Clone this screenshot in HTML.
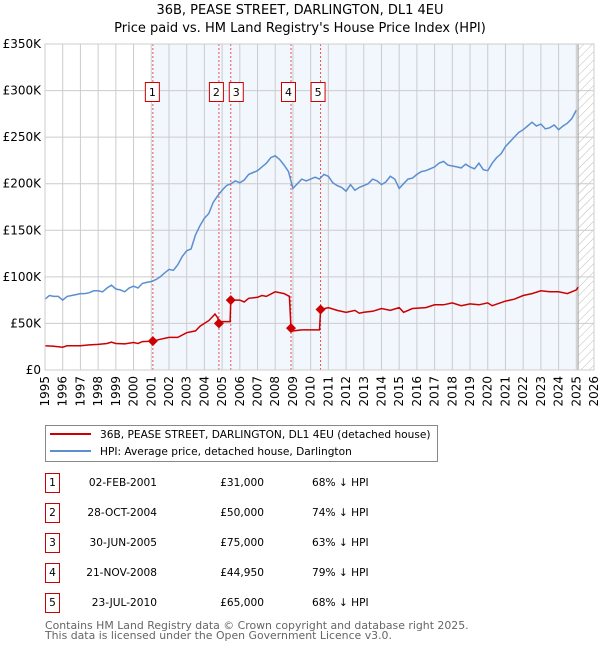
<!DOCTYPE html>
<html><head><meta charset="utf-8"><style>
body{margin:0;background:#fff;}
svg text{font-family:"DejaVu Sans","Liberation Sans",sans-serif;}
</style></head><body>
<svg id="chart" width="600" height="650" xmlns="http://www.w3.org/2000/svg">
<defs><pattern id="hatch" width="6" height="6" patternUnits="userSpaceOnUse" patternTransform="rotate(45)"><line x1="0" y1="0" x2="0" y2="6" stroke="#bbb" stroke-width="1"/></pattern></defs>
<text x="300" y="14" text-anchor="middle" font-size="13">36B, PEASE STREET, DARLINGTON, DL1 4EU</text>
<text x="300" y="32" text-anchor="middle" font-size="13">Price paid vs. HM Land Registry's House Price Index (HPI)</text>
<g id="plot"></g>
<g>
<rect x="45.5" y="425.5" width="392" height="36" fill="#fff" stroke="#888"/>
<line x1="50" y1="434" x2="91" y2="434" stroke="#cc0000" stroke-width="2"/>
<text x="100" y="438" font-size="10.6">36B, PEASE STREET, DARLINGTON, DL1 4EU (detached house)</text>
<line x1="50" y1="451" x2="91" y2="451" stroke="#5b8fd0" stroke-width="2"/>
<text x="100" y="455" font-size="10.6">HPI: Average price, detached house, Darlington</text>
</g>
<g id="table" font-size="10.6"></g>
<text x="45" y="629" font-size="10.9" fill="#666">Contains HM Land Registry data © Crown copyright and database right 2025.</text>
<text x="45" y="639" font-size="10.9" fill="#666">This data is licensed under the Open Government Licence v3.0.</text>
</svg>
<script>
const hpiStart = 1995;
const hpiValues = [76,80,79,79, 75,79,80,81, 82,82,83,85, 85,84,88,91, 87,86,84,88, 90,88,93,94, 95,97,100,104, 108,107,113,122, 128,130,145,155, 163,168,180,187, 193,198,200,203, 201,204,210,212, 214,218,222,228, 230,226,220,213, 195,200,205,203, 205,207,205,210, 208,201,198,196, 192,199,193,196, 198,200,205,203, 199,202,208,205, 195,200,205,206, 210,213,214,216, 218,222,224,220, 219,218,217,221, 218,216,222,215, 214,222,228,232, 240,245,250,255, 258,262,266,262, 264,259,260,263, 258,262,265,270, 279];
const redDates = [1995.0,1995.5,1996.0,1996.25,1997.0,1997.5,1998.0,1998.5,1998.75,1999.0,1999.5,2000.0,2000.25,2000.5,2001.09,2001.5,2002.0,2002.5,2003.0,2003.5,2003.75,2004.0,2004.25,2004.6,2004.75,2004.82,2005.0,2005.45,2005.49,2006.0,2006.25,2006.5,2007.0,2007.25,2007.5,2008.0,2008.5,2008.8,2008.89,2009.0,2009.5,2010.0,2010.5,2010.56,2011.0,2011.5,2012.0,2012.5,2012.75,2013.0,2013.5,2014.0,2014.5,2015.0,2015.25,2015.75,2016.5,2017.0,2017.5,2018.0,2018.5,2019.0,2019.5,2020.0,2020.25,2021.0,2021.5,2022.0,2022.5,2023.0,2023.5,2024.0,2024.5,2025.0,2025.1];
const redValues = [26,25.5,24.5,26,26,27,27.5,28.5,30,28.5,28,29.5,28.5,30.5,31,33,35,35,40,42,47,50,53,60,56,50,52,52,75,75,73,77,78,80,79,84,82,79,44.95,42,43,43,43,65,67,64,62,64,61,62,63,66,64,67,62,66,67,70,70,72,69,71,70,72,69,74,76,80,82,85,84,84,82,86,89];
const saleLabels = ["1","2","3","4","5"];
const saleDates = [2001.09,2004.82,2005.49,2008.89,2010.56];
const salePrices = [31,50,75,44.95,65];
const saleDateText = ["02-FEB-2001","28-OCT-2004","30-JUN-2005","21-NOV-2008","23-JUL-2010"];
const salePriceText = ["£31,000","£50,000","£75,000","£44,950","£65,000"];
const salePctText = ["68% ↓ HPI","74% ↓ HPI","63% ↓ HPI","79% ↓ HPI","68% ↓ HPI"];
const yTicks = [0,50,100,150,200,250,300,350];
const yTickLabels = ["£0","£50K","£100K","£150K","£200K","£250K","£300K","£350K"];
const xYears = [];
for (let y = 1995; y <= 2026; y++) xYears.push(y);

const X0=45,X1=594,Y0=370,Y1=44;
const xs = t => X0 + (t-1995)/(2026-1995)*(X1-X0);
const ys = v => Y0 - v/350*(Y0-Y1);
const NS="http://www.w3.org/2000/svg";
const plot=document.getElementById('plot');
function mk(tag,attrs,parent){const e=document.createElementNS(NS,tag);for(const k in attrs)e.setAttribute(k,attrs[k]);(parent||plot).appendChild(e);return e;}

const bg=mk('rect',{x:xs(saleDates[0]),y:Y1,width:xs(2025.1)-xs(saleDates[0]),height:Y0-Y1,fill:'#f2f6fd'});


const hz=mk('rect',{x:xs(2025.1),y:Y1,width:X1-xs(2025.1),height:Y0-Y1,fill:'url(#hatch)'});



yTicks.forEach((v,i)=>{
  const l=mk('line',{x1:X0,x2:X1,y1:ys(v),y2:ys(v),stroke:'#ccc','stroke-width':1});
  
  
  const t=mk('text',{x:X0-4,y:ys(v)+4,'text-anchor':'end','font-size':12});
  t.textContent=yTickLabels[i];
  
  
});
xYears.forEach(yr=>{
  const l=mk('line',{x1:xs(yr),x2:xs(yr),y1:Y1,y2:Y0,stroke:'#ccc','stroke-width':1});
  
  
  const t=mk('text',{x:0,y:0,'text-anchor':'end','font-size':12,transform:`translate(${xs(yr)+4},${Y0+6}) rotate(-90)`});
  t.textContent=String(yr);
  
  
});
const bl=mk('line',{x1:xs(2025.1),x2:xs(2025.1),y1:Y1,y2:Y0,stroke:'#999','stroke-width':1});



saleDates.forEach((d,i)=>{
  const l=mk('line',{x1:xs(d),x2:xs(d),y1:Y1,y2:Y0,stroke:'#e05555','stroke-width':1,'stroke-dasharray':'2,2'});
  
  
});

const hp=hpiValues.map((v,i)=>`${xs(hpiStart+i*0.25).toFixed(1)},${ys(v).toFixed(1)}`).join(' ');
const hl=mk('polyline',{points:hp,fill:'none',stroke:'#5b8fd0','stroke-width':1.5});


const rp=redDates.map((d,i)=>`${xs(d).toFixed(1)},${ys(redValues[i]).toFixed(1)}`).join(' ');
const rl=mk('polyline',{points:rp,fill:'none',stroke:'#cc0000','stroke-width':1.5});



saleDates.forEach((d,i)=>{
  const cx=xs(d),cy=ys(salePrices[i]);
  const p=mk('polygon',{points:`${cx},${cy-5} ${cx+5},${cy} ${cx},${cy+5} ${cx-5},${cy}`,fill:'#cc0000'});
  
  
  const bx=(i===1)?cx-9:(i===2?cx-1:(i===0?cx-7:cx-9));
  const r=mk('rect',{x:bx-0.5,y:82.5,width:14,height:19,fill:'#fff',stroke:'#cc0000'});
  
  
  const t=mk('text',{x:bx+6.5,y:96,'text-anchor':'middle','font-size':11});
  t.textContent=saleLabels[i];
  
  
});
const fr=mk('rect',{x:X0,y:Y1,width:X1-X0,height:Y0-Y1,fill:'none',stroke:'#ccc'});



const tb=document.getElementById('table');
saleLabels.forEach((lab,i)=>{
  const cy=483+i*30;
  const r=mk('rect',{x:45.5,y:cy-9.5,width:14,height:19,fill:'#fff',stroke:'#cc0000'},tb);
  
  
  const n=mk('text',{x:52.5,y:cy+3,'text-anchor':'middle'},tb);n.textContent=lab;
  
  
  const d=mk('text',{x:157,y:cy+3,'text-anchor':'end'},tb);d.textContent=saleDateText[i];
  
  
  const p=mk('text',{x:264,y:cy+3,'text-anchor':'end'},tb);p.textContent=salePriceText[i];
  
  
  const c=mk('text',{x:312,y:cy+3},tb);c.textContent=salePctText[i];
  
  
});
</script>
</body></html>
